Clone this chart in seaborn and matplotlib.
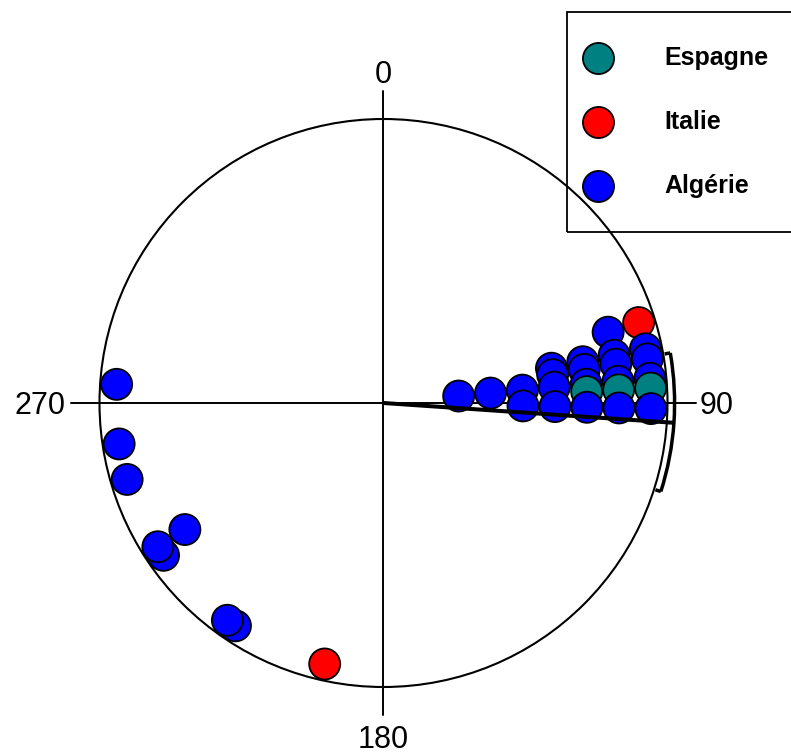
import numpy as np
import pandas as pd
import matplotlib
matplotlib.use("Agg")
import matplotlib.pyplot as plt
from matplotlib.patches import Circle, Arc, Rectangle
import seaborn as sns

sns.set_style("white")
plt.rcParams["font.family"] = ["Liberation Sans", "DejaVu Sans"]
plt.rcParams["text.color"] = "black"

# Orientations (degrees, clockwise from north) by country
pays = ["Espagne", "Italie", "Algérie"]
couleurs = ["#008080", "#FF0000", "#0000FF"]

orient_espagne = [86.8, 86.8, 86.8]
orient_italie = [72.5, 192.7]
orient_algerie = [72.5,
                  78.3, 78.3, 78.3, 78.3,
                  80.5, 80.5, 80.5, 80.5,
                  84.7, 84.7, 84.7, 84.7, 84.7, 84.7, 84.7,
                  91.2, 91.2, 91.2, 91.2, 91.2,
                  213.6, 215.7, 235.3, 237.5, 237.5, 253.4, 261.2, 274.0]

# Mean direction and its confidence interval (degrees)
direction_moyenne = 93.9
ic_demi = 13.8

axes_labels = ["0", "90", "180", "270"]

# Build the table and stack identical orientations inward from the rim
df = pd.DataFrame({
    "orientation": orient_espagne + orient_italie + orient_algerie,
    "pays": (["Espagne"] * len(orient_espagne) + ["Italie"] * len(orient_italie)
             + ["Algérie"] * len(orient_algerie)),
})
df["niveau"] = df.groupby("orientation").cumcount()
df = df.sort_values("orientation", kind="stable").reset_index(drop=True)

rim, pas = 0.942, 0.1127
rad = np.deg2rad(df["orientation"])
r = rim - df["niveau"] * pas
df["x"] = r * np.sin(rad)
df["y"] = r * np.cos(rad)

# Figure in units of the circle radius
W, H, DPI = 791, 753, 100
cx, cy, R = 383.5, 403.0, 284.0
fig = plt.figure(figsize=(W / DPI, H / DPI), dpi=DPI)
ax = fig.add_axes([0, 0, 1, 1])
ax.set_xlim(-cx / R, (W - cx) / R)
ax.set_ylim(-(H - cy) / R, cy / R)
ax.set_aspect("equal")
ax.axis("off")

# Circle and cross-hair axes
ax.add_patch(Circle((0, 0), 1.0, fill=False, lw=1.5, color="black", zorder=1))
ax.plot([-1.1, 1.1], [0, 0], color="black", lw=1.4, zorder=1)
ax.plot([0, 0], [-1.1, 1.1], color="black", lw=1.4, zorder=1)

fs = 22
ax.text(0, 1.155, axes_labels[0], ha="center", va="center", fontsize=fs)
ax.text(1.114, -0.012, axes_labels[1], ha="left", va="center", fontsize=fs)
ax.text(0, -1.185, axes_labels[2], ha="center", va="center", fontsize=fs)
ax.text(-1.121, -0.012, axes_labels[3], ha="right", va="center", fontsize=fs)

# Individual orientations
sns.scatterplot(data=df, x="x", y="y", hue="pays", hue_order=pays,
                palette=couleurs, s=500, edgecolor="black", linewidth=1.3,
                legend=False, ax=ax, zorder=3)

# Mean direction and confidence arc
rb = 1.025
m = np.deg2rad(direction_moyenne)
ax.plot([0, rb * np.sin(m)], [0, rb * np.cos(m)], color="black", lw=2.9,
        zorder=4, solid_capstyle="butt")
a0, a1 = direction_moyenne - ic_demi, direction_moyenne + ic_demi
ax.add_patch(Arc((0, 0), 2 * rb, 2 * rb, theta1=90 - a1, theta2=90 - a0,
                 lw=2.5, color="black", zorder=4))
for a in (a0, a1):
    t = np.deg2rad(a)
    ax.plot([rb * np.sin(t), (rb - 0.02) * np.sin(t)],
            [rb * np.cos(t), (rb - 0.02) * np.cos(t)],
            color="black", lw=2.5, zorder=4, solid_capstyle="butt")

# Legend panel
fig.patches.append(Rectangle((567 / W, 1 - 232 / H), 0.4, 220 / H,
                             transform=fig.transFigure, fill=False,
                             lw=1.3, edgecolor="black", clip_on=False))
for i, (p, c) in enumerate(zip(pays, couleurs)):
    yy = 1 - (58 + 64 * i) / H
    fig.add_artist(plt.Line2D([598 / W], [yy], marker="o", markersize=22.4,
                              markerfacecolor=c, markeredgecolor="black",
                              markeredgewidth=1.3, linestyle="none",
                              transform=fig.transFigure))
    fig.text(664 / W, yy, p, ha="left", va="center", fontsize=18,
             fontweight="bold")

fig.savefig("out.png", dpi=DPI)
